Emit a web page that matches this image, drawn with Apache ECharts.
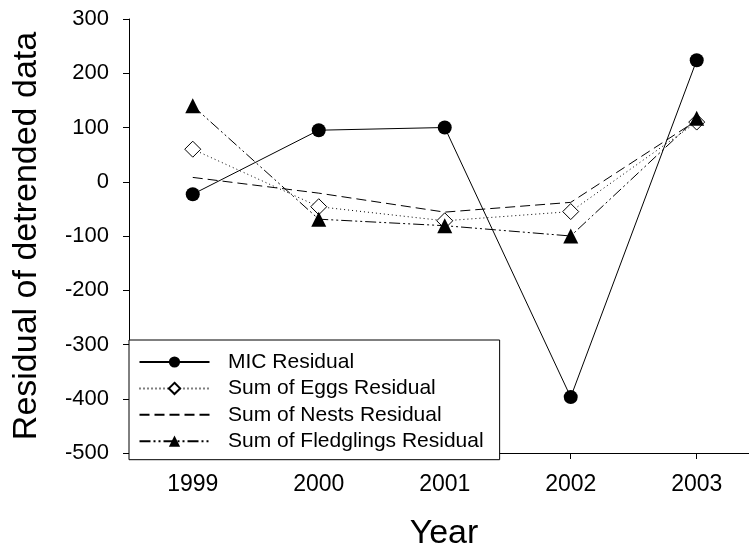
<!DOCTYPE html>
<html>
<head>
<meta charset="utf-8">
<script src="https://cdn.jsdelivr.net/npm/echarts@6/dist/echarts.min.js"></script>
<style>html,body{margin:0;padding:0;background:#fff}#c{width:749px;height:556px}</style>
</head>
<body>
<div id="c"></div>
<script>
var years = [1999, 2000, 2001, 2002, 2003];
var micResidual = [-23, 95, 100, -397, 224];
var eggsResidual = [60, -46, -72, -55, 110];
var nestsResidual = [8, -21, -56, -38, 113];
var fledglingsResidual = [140, -69, -81, -100, 117];
var yTicks = [-500, -400, -300, -200, -100, 0, 100, 200, 300];

function pairs(v) { return years.map(function (y, i) { return [y, v[i]]; }); }

var FONT = 'Liberation Sans, Arial, sans-serif';
var chart = echarts.init(document.getElementById('c'), null, { renderer: 'canvas' });
chart.setOption({
  animation: false,
  backgroundColor: '#fff',
  grid: { left: 129, right: 0, top: 19, bottom: 96.5, containLabel: false },
  xAxis: {
    type: 'value', min: 1998.494, max: 2003.415,
    name: 'Year', nameLocation: 'middle', nameGap: 64,
    nameTextStyle: { fontFamily: FONT, fontSize: 34, color: '#000', padding: [0, 0, 0, 10] },
    axisLine: { show: true, onZero: false, lineStyle: { color: '#000', width: 1 } },
    axisTick: { show: true, inside: false, length: 6, customValues: years, lineStyle: { color: '#000' } },
    axisLabel: { customValues: years, margin: 20, fontFamily: FONT, fontSize: 23, color: '#000',
      formatter: function (v) { return String(v); } },
    splitLine: { show: false }
  },
  yAxis: {
    type: 'value', min: -500, max: 300, interval: 100,
    name: 'Residual of detrended data', nameLocation: 'middle', nameGap: 85,
    nameTextStyle: { fontFamily: FONT, fontSize: 34, color: '#000' },
    axisLine: { show: true, onZero: false, lineStyle: { color: '#000', width: 1 } },
    axisTick: { show: true, inside: false, length: 6, lineStyle: { color: '#000' } },
    axisLabel: { customValues: yTicks, margin: 20, fontFamily: FONT, fontSize: 22, color: '#000',
      formatter: function (v) { return String(v); } },
    splitLine: { show: false }
  },
  legend: {
    orient: 'vertical', left: 129, top: 340,
    padding: [11.5, 16, 8, 9.5], itemGap: 5.4,
    itemWidth: 70, itemHeight: 14,
    backgroundColor: '#fff', borderColor: '#000', borderWidth: 1,
    textStyle: { fontFamily: FONT, fontSize: 21, color: '#000', padding: [0, 0, 0, 13.5] },
    data: [
      'MIC Residual',
      'Sum of Eggs Residual',
      { name: 'Sum of Nests Residual', itemStyle: { opacity: 0 } },
      'Sum of Fledglings Residual'
    ]
  },
  series: [
    {
      name: 'MIC Residual', type: 'line', data: pairs(micResidual),
      symbol: 'circle', symbolSize: 14,
      lineStyle: { color: '#000', width: 1, type: 'solid' },
      itemStyle: { color: '#000' }, z: 5
    },
    {
      name: 'Sum of Eggs Residual', type: 'line', data: pairs(eggsResidual),
      symbol: 'diamond', symbolSize: 16,
      lineStyle: { color: '#000', width: 1, type: [1, 3] },
      itemStyle: { color: '#fff', borderColor: '#000', borderWidth: 1 }, z: 3
    },
    {
      name: 'Sum of Nests Residual', type: 'line', data: pairs(nestsResidual),
      symbol: 'none', showSymbol: false,
      lineStyle: { color: '#000', width: 1, type: [10, 5] },
      itemStyle: { color: '#000' }, z: 2
    },
    {
      name: 'Sum of Fledglings Residual', type: 'line', data: pairs(fledglingsResidual),
      symbol: 'triangle', symbolSize: 15,
      lineStyle: { color: '#000', width: 1, type: [11, 3, 2, 3, 2, 3] },
      itemStyle: { color: '#000' }, z: 4
    }
  ]
});
</script>
</body>
</html>
